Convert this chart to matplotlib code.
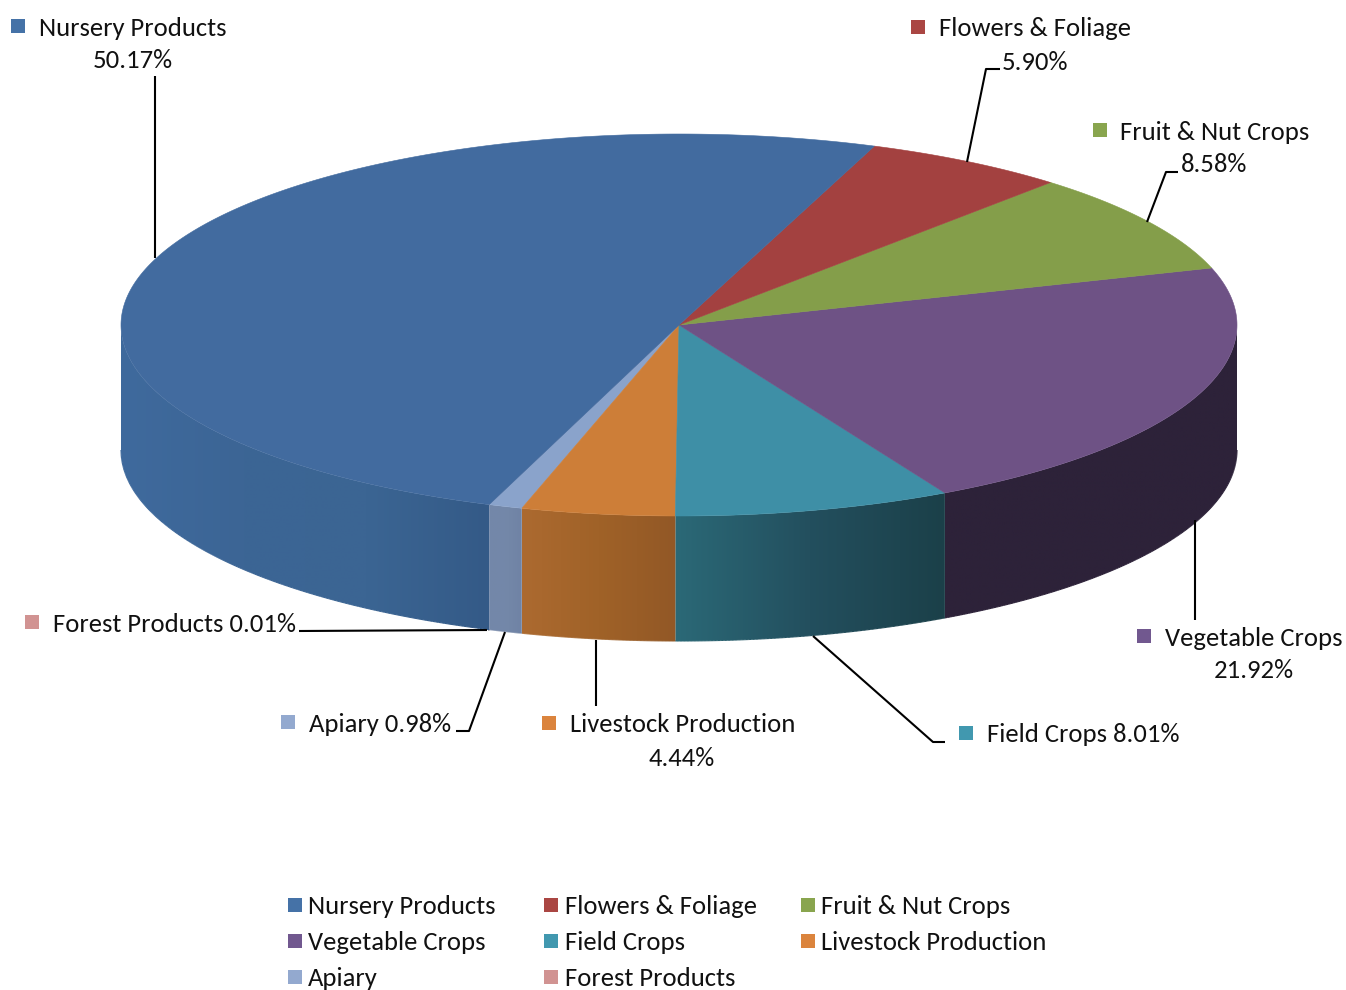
import numpy as np
from matplotlib import pyplot as plt
from matplotlib.collections import LineCollection
from matplotlib.colors import to_rgb
from matplotlib.patches import Polygon

plt.rcParams["font.family"] = ["Carlito", "Lato", "DejaVu Sans"]

names = ["Nursery Products", "Flowers & Foliage", "Fruit & Nut Crops", "Vegetable Crops",
         "Field Crops", "Livestock Production", "Apiary", "Forest Products"]
shares = [50.17, 5.90, 8.58, 21.92, 8.01, 4.44, 0.98, 0.01]
colors = ["#426b9f", "#a34140", "#849e4a", "#6e5285", "#3e8fa6", "#cd7e38", "#8aa3cb", "#d09392"]
legend_colors = ["#4572a7", "#aa4643", "#89a54e", "#71588f", "#4198af", "#db843d", "#93a9cf", "#d19392"]

# wall shading per slice, from the left side of the wall to the right
wall_colors = {
    "Nursery Products": ["#3f6a9d", "#3c6595", "#3b6593", "#345a87"],
    "Vegetable Crops": ["#2d2239", "#2d2239"],
    "Field Crops": ["#2b6977", "#234f5e", "#1b4049"],
    "Livestock Production": ["#ac6a30", "#a06228", "#925826"],
    "Apiary": ["#7387a9", "#7488a9", "#7083a5"],
    "Forest Products": ["#7387a9", "#7387a9"],
}

# layout of the pie in image pixels
CX, CY, RX, RY, DEPTH = 679, 325, 558, 191, 125
START = 20.5 - 50.17 * 3.6


def rim(angle):
    # angle runs clockwise from the top of the pie
    a = np.radians(angle)
    return CX + RX * np.sin(a), CY - RY * np.cos(a)


def shade(stops, t):
    rgb = np.array([to_rgb(c) for c in stops])
    pos = np.linspace(0, 1, len(stops))
    return np.stack([np.interp(t, pos, rgb[:, i]) for i in range(3)], axis=-1)


fig = plt.figure(figsize=(13.46, 9.9), dpi=100)
ax = fig.add_axes([0, 0, 1, 1])
ax.axis("off")

edges = START + np.cumsum([0] + shares) * 3.6

# side walls: only the part between 90 and 270 degrees faces the viewer
for name, a0, a1 in zip(names, edges[:-1], edges[1:]):
    if name not in wall_colors:
        continue
    width = a1 - a0
    lo = a0 % 360
    lo, hi = max(lo, 90), min(lo + width, 270)
    if hi <= lo:
        continue
    x, y = rim(np.linspace(lo, hi, 200))
    xmin, xmax = x.min(), x.max()
    ymin, ymax = y.min(), y.max() + DEPTH
    t = np.linspace(0, 1, max(int(xmax - xmin), 2))
    clip = Polygon(np.c_[np.r_[x, x[::-1]], np.r_[y, y[::-1] + DEPTH]], transform=ax.transData)
    ax.imshow(shade(wall_colors[name], t)[None, :, :], extent=[xmin, xmax, ymax, ymin],
              aspect="auto", interpolation="bilinear", clip_path=clip, zorder=1)
    # soften the jagged bottom edge left by the image clip
    pts = np.c_[x, y + DEPTH]
    segs = np.stack([pts[:-1], pts[1:]], axis=1)
    seg_t = (pts[:-1, 0] - xmin) / max(xmax - xmin, 1)
    ax.add_collection(LineCollection(segs, colors=shade(wall_colors[name], seg_t), linewidths=0.8, zorder=2))

ax.set_xlim(0, 1346)
ax.set_ylim(990, 0)

# top face, drawn backwards so the nursery slice hides the forest sliver
for col, a0, a1 in list(zip(colors, edges[:-1], edges[1:]))[::-1]:
    grid = np.linspace(a0, a1, max(int((a1 - a0) * 2), 2) + 1)
    x, y = rim(grid)
    ax.fill(np.r_[CX, x], np.r_[CY, y], color=col, lw=0.4, zorder=3)

# leader lines
leaders = [
    [(155, 76), (155, 258)],
    [(1000, 69), (986, 69), (967, 162)],
    [(1178, 172), (1166, 172), (1147, 222)],
    [(1195, 520), (1195, 620)],
    [(813, 636), (933, 742), (945, 742)],
    [(596, 640), (596, 706)],
    [(505, 632), (469, 731), (456, 731)],
    [(299, 631), (487, 630)],
]
for path in leaders:
    xs, ys = zip(*path)
    ax.plot(xs, ys, color="black", lw=1.5, zorder=4, solid_capstyle="butt")

FS = 19.2
# data labels: marker centre, name start, then the percent line if it is separate
label_layout = [
    ((18, 26), (39, 28), (133, 60)),
    ((918, 27), (939, 29), (1035, 62)),
    ((1100, 130), (1120.5, 132), (1214.5, 165)),
    ((1144, 636), (1165, 638), (1253.5, 671)),
    ((966, 733), (987, 735), None),
    ((549, 723), (569.5, 725), (681.5, 758)),
    ((288, 722), (309, 724), None),
    ((32, 622), (53, 624), None),
]
for name, share, col, (mk, txt, pct) in zip(names, shares, legend_colors, label_layout):
    ax.scatter(*mk, marker="s", s=115, color=col, linewidths=0, zorder=5)
    value = f"{share:.2f}%"
    if pct is None:
        ax.text(*txt, f"{name} {value}", fontsize=FS, va="center", ha="left", color="#111111")
    else:
        ax.text(*txt, name, fontsize=FS, va="center", ha="left", color="#111111")
        ax.text(*pct, value, fontsize=FS, va="center", ha="center", color="#111111")

# legend at the bottom, three columns
for i, (name, col) in enumerate(zip(names, legend_colors)):
    row, column = i // 3, i % 3
    x = 287 + column * 256.5
    y = 905 + row * 36
    ax.scatter(x + 7.5, y, marker="s", s=115, color=col, linewidths=0, zorder=5)
    ax.text(x + 21.2, y + 1.5, name, fontsize=FS, va="center", ha="left", color="#111111")

fig.savefig("out.png", dpi=100)
